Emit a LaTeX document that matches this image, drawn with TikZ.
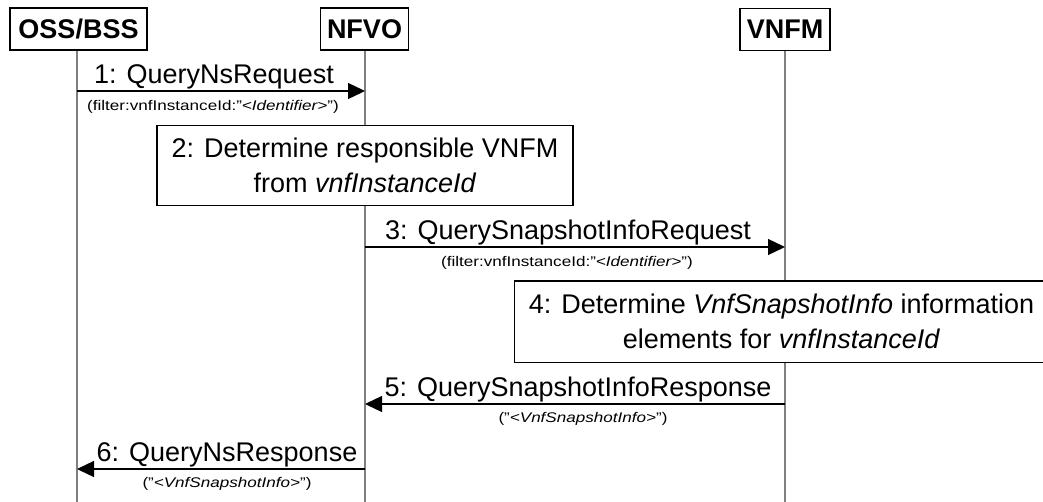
\documentclass[tikz,border=0pt]{standalone}
\usepackage{fontspec}
\usepackage{graphicx}
\setmainfont{Liberation Sans}
\usetikzlibrary{arrows.meta}
\begin{document}
\begin{tikzpicture}[x=1pt,y=-1pt,
  head/.style={draw=black,line width=1.4pt,fill=white,font=\bfseries\fontsize{27}{30}\selectfont,minimum height=42pt,inner sep=0pt},
  life/.style={draw=black!50,line width=2pt},
  msg/.style={draw=black,line width=1.3pt,-{Triangle[length=17pt,width=16pt]}},
  lbl/.style={font=\fontsize{27}{30}\selectfont,anchor=base,inner sep=0pt},
  sub/.style={font=\fontsize{14}{16}\selectfont,anchor=base,inner sep=0pt},
  act/.style={draw=black,line width=1.3pt,fill=white,align=center,font=\fontsize{27}{35}\selectfont,inner sep=0pt,minimum height=80pt},
  border/.style={draw=black,line width=1.3pt}]
\useasboundingbox (0,0) rectangle (1043,501);
\fill[white] (0,0) rectangle (1043,501);

% participants
\node[head,minimum width=137pt] (oss)  at (78.5,29) {OSS/BSS};
\node[head,minimum width=88pt]  (nfvo) at (364.5,29) {NFVO};
\node[head,minimum width=90pt]  (vnfm) at (785,29.5) {VNFM};

% lifelines
\coordinate (ossend)  at (77,510);
\coordinate (nfvoend) at (365,510);
\coordinate (vnfmend) at (785,510);
\draw[life] (oss.south -| ossend) -- (ossend);
\draw[life] (nfvo.south -| nfvoend) -- (nfvoend);
\draw[life] (vnfm.south -| vnfmend) -- (vnfmend);

% message 1
\coordinate (m1a) at (77,91);
\coordinate (m1b) at (365,91);
\draw[msg] (m1a) -- (m1b);
\node[lbl] (l1) at (214,83) {1: QueryNsRequest};
\node[sub] (s1) at (213,110) {\scalebox{1.22}[1]{(filter:vnfInstanceId:"\textit{<Identifier>}")}};

% step 2
\node[act,minimum width=416pt] (a2) at (365,165.5) {2: Determine responsible VNFM\\from \textit{vnfInstanceId}};

% message 3
\coordinate (m3a) at (365,247);
\coordinate (m3b) at (785,247);
\draw[msg] (m3a) -- (m3b);
\node[lbl] (l3) at (568,239) {3: QuerySnapshotInfoRequest};
\node[sub] (s3) at (567,266) {\scalebox{1.22}[1]{(filter:vnfInstanceId:"\textit{<Identifier>}")}};

% step 4 (box runs off the right edge)
\node[act,draw=none,minimum width=533pt] (a4) at (781.5,321.5) {4: Determine \textit{VnfSnapshotInfo} information\\elements for \textit{vnfInstanceId}};
\draw[border] ([xshift=30pt]a4.north east) -- (a4.north west) -- (a4.south west) -- ([xshift=30pt]a4.south east);

% message 5
\coordinate (m5a) at (785,404);
\coordinate (m5b) at (365,404);
\draw[msg] (m5a) -- (m5b);
\node[lbl] (l5) at (578,396) {5: QuerySnapshotInfoResponse};
\node[sub] (s5) at (583,422) {\scalebox{1.22}[1]{("\textit{<VnfSnapshotInfo>}")}};

% message 6
\coordinate (m6a) at (365,469);
\coordinate (m6b) at (77,469);
\draw[msg] (m6a) -- (m6b);
\node[lbl] (l6) at (227,461) {6: QueryNsResponse};
\node[sub] (s6) at (227,487) {\scalebox{1.22}[1]{("\textit{<VnfSnapshotInfo>}")}};
\end{tikzpicture}
\end{document}
